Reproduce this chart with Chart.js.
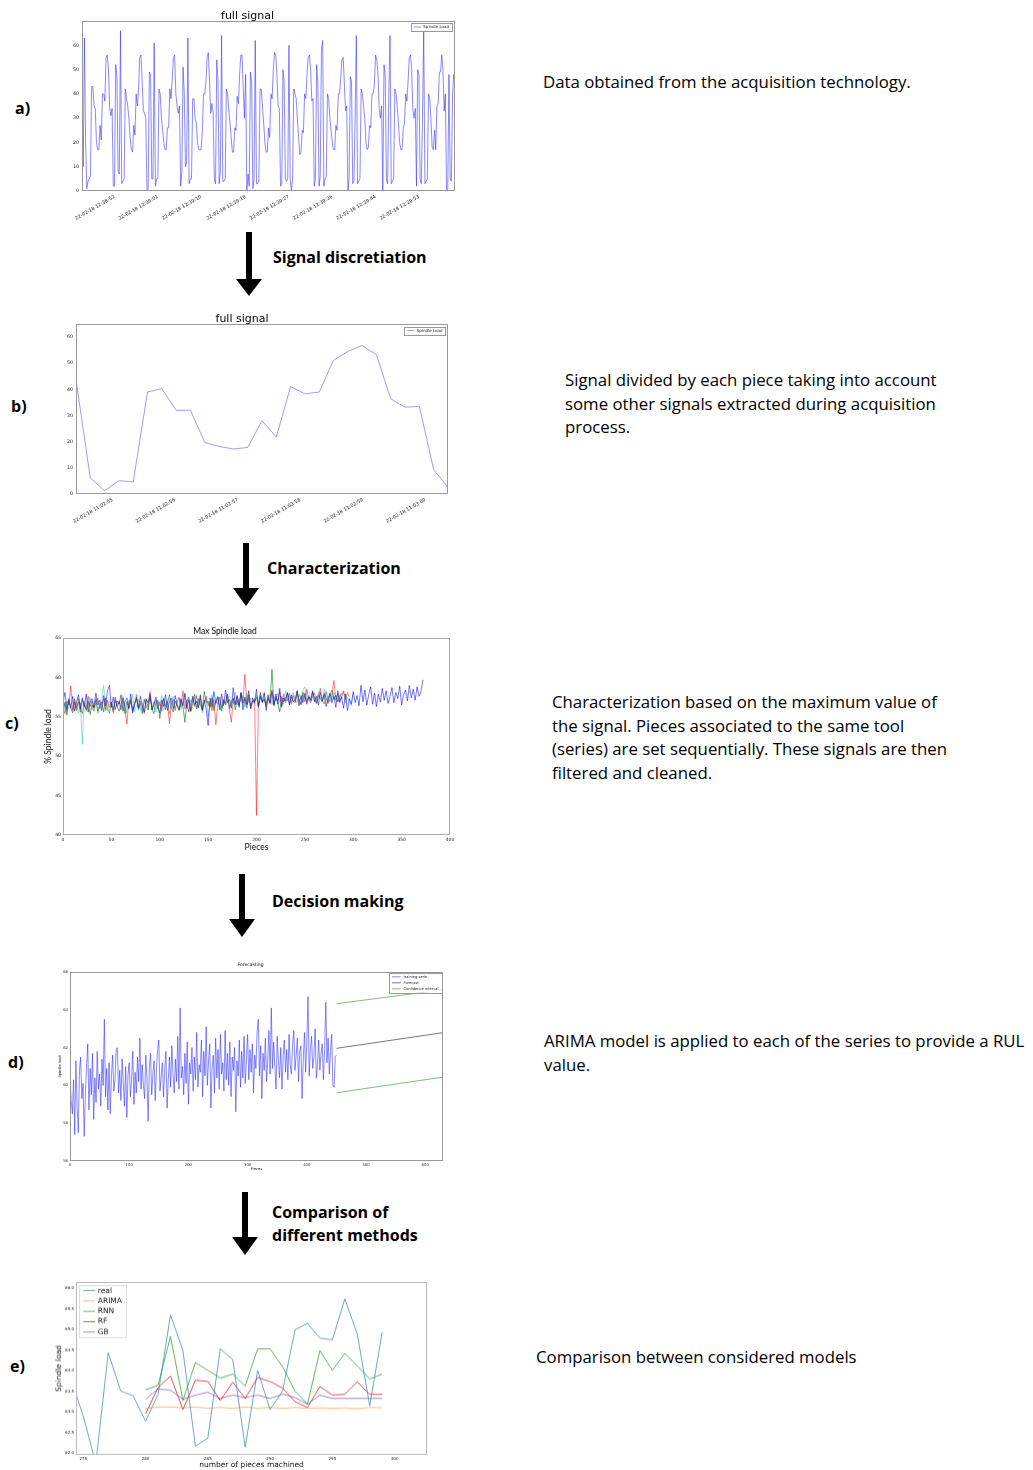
<!DOCTYPE html>
<html>
<head>
<meta charset="utf-8">
<title>Pipeline</title>
<script src="https://cdn.jsdelivr.net/npm/chart.js@4.4.1/dist/chart.umd.min.js"></script>
<style>
  body { margin: 0; background: #fff; }
  #page { position: relative; width: 1033px; height: 1470px; overflow: hidden; font-family: "Open Sans", Lato, sans-serif; color: #000; }
  .box { position: absolute; }
  .txt { position: absolute; font-size: 16.8px; line-height: 23.5px; white-space: nowrap; }
  .lbl { position: absolute; font-weight: bold; font-size: 16px; line-height: 20px; }
  .step { position: absolute; font-weight: bold; font-size: 16px; line-height: 23px; white-space: nowrap; }
  .ctitle { position: absolute; font-family: Lato, sans-serif; font-size: 8.5px; line-height: 10px; white-space: nowrap; transform: translateX(-50%); }
  svg { position: absolute; left: 0; top: 0; }
</style>
</head>
<body>
<div id="page">
  <svg width="1033" height="1470">
    <g fill="#000">
      <rect x="246" y="232" width="6" height="48"/><polygon points="236,279 262,279 249,296"/>
      <rect x="243" y="543" width="6" height="46"/><polygon points="233,588 259,588 246,606"/>
      <rect x="239" y="874" width="6" height="46"/><polygon points="229,919 255,919 242,937"/>
      <rect x="242" y="1192" width="6" height="46"/><polygon points="232,1237 258,1237 245,1255"/>
    </g>
  </svg>

  <div class="box" id="boxA"><canvas id="chartA"></canvas></div>
  <div class="box" id="boxB"><canvas id="chartB"></canvas></div>
  <div class="box" id="boxC"><canvas id="chartC"></canvas></div>
  <div class="box" id="boxD"><canvas id="chartD"></canvas></div>
  <div class="box" id="boxE"><canvas id="chartE"></canvas></div>

  <div class="ctitle" style="left:225px;top:626px">Max Spindle load</div>

  <div class="lbl" style="left:15px;top:98px">a)</div>
  <div class="lbl" style="left:11px;top:396px">b)</div>
  <div class="lbl" style="left:5px;top:713px">c)</div>
  <div class="lbl" style="left:8px;top:1052px">d)</div>
  <div class="lbl" style="left:10px;top:1356px">e)</div>

  <div class="step" style="left:273px;top:246px">Signal discretiation</div>
  <div class="step" style="left:267px;top:557px">Characterization</div>
  <div class="step" style="left:272px;top:890px">Decision making</div>
  <div class="step" style="left:272px;top:1201px">Comparison of<br>different methods</div>

  <div class="txt" style="left:543px;top:70px">Data obtained from the acquisition technology.</div>
  <div class="txt" style="left:565px;top:368px">Signal divided by each piece taking into account<br>some other signals extracted during acquisition<br>process.</div>
  <div class="txt" style="left:552px;top:690px">Characterization based on the maximum value of<br>the signal. Pieces associated to the same tool<br>(series) are set sequentially. These signals are then<br>filtered and cleaned.</div>
  <div class="txt" style="left:544px;top:1029px">ARIMA model is applied to each of the series to provide a RUL<br>value.</div>
  <div class="txt" style="left:536px;top:1345px">Comparison between considered models</div>
</div>

<script>
// ---------- a) full signal (raw spindle load, one sample per index) ----------
const signalA = [
  38, 10, 63, 20, 1, 4, 5, 6,
  43, 43, 35, 34, 20, 17, 17, 27, 21, 40, 40, 37, 55, 56, 50, 34, 31, 34, 2, 2, 52, 48, 8, 7, 66, 3, 4, 5,
  42, 38, 35, 30, 22, 17, 16, 27, 23, 40, 35, 42, 55, 56, 45, 33, 32, 30, 0, 1, 49, 48, 5, 5, 61, 2, 5, 5,
  42, 40, 30, 25, 20, 17, 17, 26, 26, 42, 38, 46, 55, 56, 40, 35, 32, 35, 2, 8, 51, 40, 10, 12, 63, 3, 5, 5,
  38, 38, 30, 28, 20, 17, 17, 17, 24, 40, 40, 45, 55, 57, 45, 32, 36, 32, 5, 3, 54, 45, 3, 8, 64, 4, 4, 5,
  42, 40, 33, 28, 22, 16, 16, 26, 25, 39, 36, 48, 56, 56, 42, 30, 48, 0, 7, 2, 49, 45, 1, 5, 62, 3, 3, 4,
  42, 42, 35, 28, 20, 16, 16, 26, 22, 40, 38, 50, 57, 56, 48, 35, 34, 2, 3, 50, 45, 5, 4, 5, 60, 5, 0, 5,
  42, 40, 38, 30, 22, 15, 16, 25, 24, 40, 38, 48, 55, 56, 50, 37, 38, 2, 5, 52, 45, 2, 6, 58, 62, 2, 5, 6,
  40, 38, 30, 25, 20, 17, 17, 27, 25, 40, 40, 46, 54, 55, 45, 33, 35, 0, 5, 47, 45, 3, 4, 30, 64, 3, 4, 5,
  42, 40, 35, 30, 20, 17, 18, 27, 26, 40, 40, 44, 56, 54, 48, 34, 30, 35, 0, 52, 48, 5, 3, 40, 64, 3, 4, 5,
  42, 40, 35, 28, 20, 17, 17, 26, 28, 40, 37, 45, 55, 56, 50, 33, 30, 34, 2, 50, 48, 5, 3, 30, 66, 3, 4, 5,
  40, 38, 30, 18, 17, 25, 17, 35, 36, 49, 49, 56, 50, 33, 40, 0, 1, 48, 5, 4, 40, 48, 45
];
const ticksAx = [27, 63, 99, 136, 172, 208, 244, 280];
const labelsAx = ["22-02-18 12:38:52", "22-02-18 12:39:01", "22-02-18 12:39:10", "22-02-18 12:39:18",
                  "22-02-18 12:39:27", "22-02-18 12:39:36", "22-02-18 12:39:44", "22-02-18 12:39:53"];
const ticksAy = [0, 10, 20, 30, 40, 50, 60];

// ---------- b) signal for one piece ----------
const signalB = [43.7, 6.1, 1.3, 5.1, 4.6, 39, 40.3, 32, 32, 19.7, 18.2, 17.2, 17.8, 28, 21.8,
                 41.1, 38.3, 39, 51.1, 54.5, 56.8, 53.2, 36.4, 33.2, 33.5, 9.3, 2.5];
const ticksBx = [2.55, 6.92, 11.3, 15.67, 20.05, 24.42];
const labelsBx = ["22-02-18 11:02:55", "22-02-18 11:02:56", "22-02-18 11:02:57",
                  "22-02-18 11:02:58", "22-02-18 11:02:59", "22-02-18 11:03:00"];
const ticksBy = [0, 10, 20, 30, 40, 50, 60];

// ---------- c) max spindle load per piece, 4 tools (one value every 2 pieces) ----------
const PIECE_STEP = 2;
const maxBlue = [
  56.8, 58.1, 55.9, 57.2, 56.1, 57.6, 55.7, 56.9, 57.8, 56.0,
  57.4, 56.3, 57.9, 55.6, 56.8, 57.3, 56.2, 58.0, 56.5, 57.1,
  55.8, 57.7, 56.4, 58.3, 59.0, 56.2, 57.5, 55.9, 57.0, 56.6,
  57.8, 55.7, 56.9, 57.4, 56.0, 57.9, 55.5, 56.7, 57.3, 56.1,
  57.6, 56.4, 55.6, 57.2, 56.8, 57.9, 55.9, 56.5, 57.5, 56.2,
  55.5, 57.1, 56.3, 57.8, 55.8, 56.9, 57.4, 56.0, 57.7, 56.6,
  55.9, 57.3, 56.4, 58.0, 56.1, 57.2, 55.7, 57.6, 56.5, 57.0,
  56.2, 57.8, 55.8, 57.1, 56.0, 53.9, 57.4, 56.3, 58.2, 56.7,
  57.5, 55.9, 57.9, 56.4, 58.4, 56.8, 57.2, 56.1, 58.7, 56.5,
  57.7, 56.2, 58.1, 55.9, 57.5, 56.6, 58.3, 56.0, 57.4, 56.8,
  58.5, 56.3, 57.6, 56.9, 58.0, 55.8, 57.3, 56.7, 58.2, 56.4,
  57.9, 56.6, 58.6, 56.2, 57.4, 57.0, 58.1, 56.5, 57.8, 56.9,
  57.2, 58.3, 56.4, 57.7, 56.8, 58.0, 56.6, 57.5, 57.1, 58.2,
  56.9, 57.6, 56.5, 58.1, 57.0, 57.8, 56.3, 57.4, 58.0, 56.8,
  57.6, 56.2, 58.3, 56.9, 57.5, 56.1, 57.9, 55.8, 57.3, 56.6,
  58.2, 56.8, 57.7, 56.4, 59.0, 56.9, 58.4, 56.5, 57.8, 58.8,
  56.6, 58.0, 56.3, 57.9, 56.9, 58.6, 57.1, 58.3, 56.7, 57.6,
  58.7, 56.8, 58.1, 57.3, 58.9, 56.5, 57.8, 58.4, 57.0, 59.0,
  57.4, 58.5, 57.1, 58.8, 57.6, 58.2, 59.7
];
const maxRed = [
  56.2, 55.4, 57.0, 56.5, 58.9, 55.8, 57.3, 56.1, 56.9, 55.6,
  57.2, 56.4, 55.9, 57.6, 56.3, 57.0, 55.7, 56.8, 57.4, 56.0,
  56.6, 57.3, 55.8, 57.1, 56.2, 56.9, 55.5, 57.5, 56.4, 57.0,
  55.9, 57.4, 56.3, 54.1, 56.8, 57.2, 55.6, 56.7, 57.8, 56.1,
  57.0, 56.5, 55.4, 57.3, 56.2, 58.2, 55.9, 56.8, 57.1, 56.0,
  56.9, 55.7, 57.4, 56.3, 57.0, 54.1, 56.6, 57.2, 55.8, 56.9,
  57.5, 56.2, 58.3, 56.0, 57.1, 55.6, 56.8, 57.4, 56.3, 57.7,
  56.1, 57.3, 55.9, 56.9, 57.6, 56.4, 57.0, 55.8, 57.2, 54.0,
  56.7, 57.5, 56.2, 57.1, 56.5, 57.8, 55.9, 54.3, 57.3, 56.6,
  57.6, 56.4, 58.0, 56.8, 60.4, 56.5, 57.4, 56.1, 56.9, 57.3,
  42.5, 56.6, 58.1, 56.9, 57.3, 56.2, 57.8, 56.7, 58.4, 56.5,
  57.6, 57.0, 58.2, 56.4, 57.9, 56.8, 57.3, 58.0, 56.6, 57.7,
  56.9, 58.3, 57.1, 56.5, 57.8, 56.9, 58.5, 57.2, 56.8, 57.6,
  58.0, 56.7, 57.5, 58.6, 57.0, 56.6, 58.2, 57.3, 56.9, 57.8,
  59.6, 57.1, 58.0, 56.8, 57.6, 58.3, 57.2, 58.1, 57.5
];
const maxGreen = [
  55.6, 56.8, 55.2, 57.1, 56.0, 55.5, 56.9, 55.8, 57.3, 56.2,
  55.4, 56.7, 55.9, 57.0, 55.3, 56.5, 56.1, 57.2, 55.7, 56.4,
  56.9, 55.6, 57.4, 56.0, 55.5, 56.8, 55.9, 57.1, 56.3, 55.7,
  56.6, 57.3, 55.4, 56.9, 56.1, 57.0, 55.8, 56.5, 57.5, 55.9,
  56.7, 55.5, 57.2, 56.2, 55.9, 57.6, 56.0, 55.4, 56.8, 57.1,
  54.8, 56.5, 57.3, 55.9, 56.7, 57.8, 56.1, 55.6, 57.0, 56.4,
  55.8, 57.2, 56.3, 54.3, 56.9, 57.5, 55.7, 56.6, 57.9, 56.0,
  57.3, 56.5, 55.9, 58.2, 56.8, 57.0, 56.2, 57.4, 55.8, 56.9,
  57.6, 56.3, 55.7, 57.2, 56.6, 57.9, 56.0, 56.8, 57.4, 55.9,
  57.1, 56.5, 58.0, 56.7, 57.3, 56.1, 57.8, 56.4, 57.0, 56.9,
  57.5, 56.2, 57.9, 56.8, 57.2, 56.5, 57.7, 56.9, 61.0, 56.6,
  57.4, 56.8, 55.6, 57.6, 56.9, 57.3, 58.0, 56.7, 57.5, 57.0,
  56.8, 57.9, 57.2, 56.6, 58.1, 57.4, 56.9, 57.7, 57.1, 58.3,
  57.0, 56.8, 57.8, 57.3, 56.9, 58.0, 57.4, 56.7, 57.9, 58.4,
  57.2, 57.7, 56.9, 57.5, 58.0
];
const maxCyan = [
  55.0, 56.9, 55.6, 57.4, 56.2, 55.8, 57.1, 56.4, 55.5, 56.8,
  51.5, 57.0, 55.7, 56.3, 57.5, 55.9, 56.6, 57.2, 55.4, 56.7,
  57.3, 59.0, 56.1, 55.8, 57.0, 56.5, 55.6, 57.4, 56.2, 56.9,
  55.9, 57.6, 56.3, 55.5, 57.1, 56.6, 57.8, 55.7, 56.4, 57.2,
  56.0, 55.3, 57.3, 56.8, 55.9, 57.5, 56.2, 56.9, 55.6, 57.0,
  56.4, 57.7, 55.8, 56.5, 57.2, 55.4, 56.9, 57.6, 56.1, 56.7,
  57.4, 55.9, 56.6, 57.9, 56.3, 55.7, 57.1, 56.8, 57.5, 56.0,
  56.9, 57.6, 55.5, 56.7, 57.3, 55.0, 56.5, 57.8, 56.2, 57.0,
  56.6, 57.4, 55.9, 57.1, 56.8, 57.9, 56.3, 57.2, 56.7, 58.1,
  56.5, 57.3, 56.9, 57.7, 56.2, 58.0, 56.8, 57.4, 57.0, 56.6,
  57.8, 56.4, 57.5, 56.9, 58.2, 56.7, 57.3, 57.9, 56.5, 57.6,
  57.1, 58.0, 56.8, 57.4, 56.6, 58.3, 57.0, 57.7, 56.9, 58.1,
  57.3, 56.8, 57.9, 57.2, 58.4, 58.8, 57.1, 57.6, 56.9, 58.0,
  57.5, 56.7, 58.2, 57.3, 57.0, 58.5, 57.4, 56.8, 57.9, 57.2,
  58.1, 57.6, 56.9, 57.8, 57.3, 58.2, 56.8, 57.5, 57.0, 56.4,
  57.9
];
const ticksCx = [0, 50, 100, 150, 200, 250, 300, 350, 400];
const ticksCy = [40, 45, 50, 55, 60, 65];

// ---------- d) forecasting ----------
const trainD = [
  60.7, 59.2, 58.5, 60.3, 57.4, 61.3, 58.9, 57.5, 60.8, 61.5,
  59.3, 60.1, 57.3, 59.6, 61.0, 62.2, 58.7, 60.9, 59.5, 61.7,
  58.2, 60.4, 59.1, 61.8, 59.8, 60.6, 58.9, 61.4, 60.0, 63.5,
  59.4, 60.9, 58.7, 61.2, 58.5, 60.5, 61.6, 59.7, 60.3, 61.9,
  62.0, 59.6, 60.8, 59.2, 61.4, 60.1, 58.9, 61.0, 58.3, 60.6,
  61.2, 59.4, 60.3, 61.8, 59.0, 60.7, 59.6, 61.5, 60.2, 62.5,
  59.8, 61.1, 60.0, 59.3, 61.6, 60.4, 58.1, 60.9, 61.7, 59.5,
  60.6, 61.3, 59.2, 60.8, 61.9, 62.4, 59.7, 60.5, 61.2, 59.4,
  60.9, 61.8, 58.8, 60.3, 61.5, 59.9, 62.1, 60.6, 59.6, 61.4,
  60.2, 62.6, 59.8, 64.1, 60.4, 61.0, 59.5, 61.7, 60.1, 62.3,
  59.0, 61.2, 60.6, 62.0, 59.7, 61.5, 60.3, 62.8, 59.9, 61.1,
  60.7, 62.4, 59.4, 61.8, 60.5, 63.1, 60.0, 61.3, 62.2, 58.8,
  60.9, 61.6, 59.6, 62.5, 60.4, 61.9, 59.8, 62.7, 60.6, 61.2,
  59.7, 62.9, 60.3, 61.7, 60.0, 62.3, 59.4, 61.5, 60.8, 62.0,
  58.6, 61.3, 60.5, 62.4, 59.9, 61.8, 60.4, 62.6, 60.1, 61.4,
  62.7, 60.3, 61.9, 60.7, 62.2, 59.6, 61.6, 60.9, 62.8, 63.5,
  60.5, 62.1, 59.3, 61.7, 60.8, 62.5, 60.2, 61.4, 62.9, 60.6,
  64.1, 60.9, 62.3, 61.0, 59.8, 62.6, 61.3, 60.4, 62.0, 59.8,
  61.5, 62.4, 60.7, 61.9, 60.3, 62.7, 61.1, 60.6, 62.2, 62.9,
  60.8, 61.6, 62.5, 60.2, 61.8, 62.1, 59.3, 61.4, 62.8, 60.7,
  62.3, 64.7, 60.5, 61.9, 62.6, 60.9, 61.5, 63.0, 60.4, 61.0,
  62.4, 60.8, 61.7, 62.2, 60.3, 61.9, 64.4, 61.2, 62.5, 60.6,
  61.8, 62.7, 60.0, 59.9, 61.5, 61.6
];
const forecastX = [450, 630];
const forecastD = [61.96, 62.79];
const upperD = [64.32, 65.06];
const lowerD = [59.61, 60.44];
const ticksDx = [0, 100, 200, 300, 400, 500, 600];
const ticksDy = [56, 58, 60, 62, 64, 66];

// ---------- e) model comparison ----------
const realX = [274, 275, 276, 277, 278, 279, 280, 281, 282, 283, 284, 285, 286,
               287, 288, 289, 290, 291, 292, 293, 294, 295, 296, 297, 298, 299];
const realE = [63.8, 62.9, 61.75, 64.44, 63.51, 63.39, 62.78, 63.43, 65.35, 64.49, 62.17, 62.37, 64.53,
               64.27, 62.15, 64.01, 63.06, 63.51, 64.99, 65.15, 64.79, 64.75, 65.74, 64.89, 63.15, 64.93];
const predX = [280, 281, 282, 283, 284, 285, 286, 287, 288, 289,
               290, 291, 292, 293, 294, 295, 296, 297, 298, 299];
const arimaE = [63.09, 63.12, 63.12, 63.10, 63.12, 63.09, 63.11, 63.09, 63.12, 63.09,
                63.11, 63.09, 63.11, 63.09, 63.10, 63.09, 63.10, 63.08, 63.11, 63.10];
const rnnE = [63.54, 63.65, 64.83, 63.28, 64.20, 64.01, 63.82, 63.92, 63.63, 64.53,
              64.53, 64.10, 63.51, 63.19, 64.49, 64.01, 64.42, 64.12, 63.80, 63.92];
const rfE = [62.96, 63.59, 63.87, 63.06, 63.77, 63.74, 63.28, 63.72, 63.33, 63.84,
             63.74, 63.58, 63.25, 63.11, 63.62, 63.41, 63.43, 63.73, 63.43, 63.43];
const gbE = [63.31, 63.56, 63.53, 63.31, 63.41, 63.48, 63.33, 63.41, 63.35, 63.41,
             63.33, 63.43, 63.35, 63.19, 63.41, 63.33, 63.33, 63.33, 63.33, 63.33];
const ticksEx = [275, 280, 285, 290, 295, 300];
const ticksEy = [62.0, 62.5, 63.0, 63.5, 64.0, 64.5, 65.0, 65.5, 66.0];

// ---------- helpers ----------
const MPL = "'DejaVu Sans', sans-serif";
const CAL = "Lato, 'Open Sans', sans-serif";

const seq = (ys, step) => ys.map((y, i) => ({ x: i * step, y }));
const pts = (xs, ys) => ys.map((y, i) => ({ x: xs[i], y }));

// box round the plot area, like matplotlib's axes frame
const framePlugin = {
  id: "frame",
  afterDatasetsDraw(chart, args, opts) {
    const { ctx, chartArea: a } = chart;
    ctx.save();
    ctx.strokeStyle = opts.color || "#999";
    ctx.lineWidth = 1;
    ctx.strokeRect(Math.round(a.left) + 0.5, Math.round(a.top) + 0.5,
                   Math.round(a.right - a.left) - 1, Math.round(a.bottom - a.top) - 1);
    ctx.restore();
  }
};

// legend drawn inside the plot area (top left / top right)
const insideLegend = {
  id: "insideLegend",
  afterDatasetsDraw(chart, args, o) {
    if (!o.show) return;
    const { ctx, chartArea: a } = chart;
    const sets = chart.data.datasets.filter(d => d.label);
    ctx.save();
    ctx.font = o.size + "px " + MPL;
    const tw = Math.max(...sets.map(d => ctx.measureText(d.label).width));
    const w = o.padX * 2 + o.line + o.gap + tw;
    const h = o.padY * 2 + o.row * sets.length;
    const x = o.side === "left" ? a.left + o.dx : a.right - o.dx - w;
    const y = a.top + o.dy;
    ctx.fillStyle = "#fff";
    ctx.fillRect(x, y, w, h);
    ctx.strokeStyle = o.border;
    ctx.lineWidth = 1;
    ctx.strokeRect(Math.round(x) + 0.5, Math.round(y) + 0.5, Math.round(w), Math.round(h));
    sets.forEach((d, i) => {
      const cy = y + o.padY + o.row * (i + 0.5);
      ctx.strokeStyle = d.borderColor;
      ctx.lineWidth = o.lw || 1;
      ctx.beginPath();
      ctx.moveTo(x + o.padX, cy);
      ctx.lineTo(x + o.padX + o.line, cy);
      ctx.stroke();
      ctx.fillStyle = o.color || "#222";
      ctx.textBaseline = "middle";
      ctx.fillText(d.label, x + o.padX + o.line + o.gap, cy);
    });
    ctx.restore();
  }
};

function axis(o) {
  return {
    type: "linear",
    position: o.position,
    min: o.min,
    max: o.max,
    grid: { display: false, drawTicks: false },
    border: { display: false },
    title: o.title
      ? { display: true, text: o.title, color: "#111", padding: 0,
          font: { family: o.titleFamily || MPL, size: o.titleSize } }
      : { display: false },
    ticks: {
      autoSkip: false,
      color: "#222",
      padding: o.pad ?? 2,
      font: { family: MPL, size: o.size },
      minRotation: o.rot || 0,
      maxRotation: o.rot || 0,
      callback: o.fmt || (v => v)
    },
    afterBuildTicks: s => { s.ticks = o.ticks.map(v => ({ value: v })); },
    afterFit: s => {
      if (o.position === "bottom") s.height = o.fit; else s.width = o.fit;
      s.paddingLeft = s.paddingRight = s.paddingTop = s.paddingBottom = 0;
    }
  };
}

// plot = [left, top, right, bottom] of the plot area on the page, m = room round it
function makeChart(id, plot, m, datasets, scales, title, legend, frameColor) {
  const box = document.getElementById("box" + id);
  box.style.left = (plot[0] - m.l) + "px";
  box.style.top = (plot[1] - m.t) + "px";
  box.style.width = (plot[2] - plot[0] + m.l + m.r) + "px";
  box.style.height = (plot[3] - plot[1] + m.t + m.b) + "px";
  const titleH = title ? title.size * title.lh + title.pb : 0;

  return new Chart(document.getElementById("chart" + id), {
    type: "line",
    data: { datasets },
    options: {
      responsive: true,
      maintainAspectRatio: false,
      animation: false,
      layout: { padding: { left: 0, right: m.r, top: m.t - titleH, bottom: 0 } },
      elements: { point: { radius: 0 }, line: { borderWidth: 1, tension: 0 } },
      plugins: {
        legend: { display: false },
        tooltip: { enabled: false },
        title: title
          ? { display: true, text: title.text, color: "#000",
              font: { family: title.family, size: title.size, weight: "normal", lineHeight: title.lh },
              padding: { top: 0, bottom: title.pb } }
          : { display: false },
        frame: { color: frameColor },
        insideLegend: legend || { show: false }
      },
      scales
    },
    plugins: [framePlugin, insideLegend]
  });
}

/* ================= a) FULL SIGNAL ================= */
makeChart("A", [82, 21, 455, 191], { l: 42, r: 6, t: 14, b: 36 },
  [{ label: "Spindle Load", data: seq(signalA, 1), borderColor: "rgba(40,40,255,0.55)" }],
  {
    x: axis({ position: "bottom", min: 0, max: 310, ticks: ticksAx, size: 4.8, rot: 30, pad: 3, fit: 36,
              fmt: (v, i) => labelsAx[i] }),
    y: axis({ position: "left", min: 0, max: 70, ticks: ticksAy, size: 4.8, pad: 3, fit: 42 })
  },
  { text: "full signal", family: MPL, size: 11, lh: 0.9, pb: 0 },
  { show: true, side: "right", dx: 3, dy: 2, size: 4, padX: 3, padY: 1.5, row: 5, line: 7, gap: 2.5, border: "#999" },
  "#999");

/* ================= b) ONE PIECE ================= */
makeChart("B", [76, 324, 448, 494], { l: 40, r: 6, t: 14, b: 36 },
  [{ label: "Spindle Load", data: seq(signalB, 1), borderColor: "rgba(60,60,255,0.5)" }],
  {
    x: axis({ position: "bottom", min: 0, max: 26, ticks: ticksBx, size: 4.8, rot: 30, pad: 3, fit: 36,
              fmt: (v, i) => labelsBx[i] }),
    y: axis({ position: "left", min: 0, max: 65, ticks: ticksBy, size: 4.8, pad: 3, fit: 40 })
  },
  { text: "full signal", family: MPL, size: 11, lh: 0.9, pb: 0 },
  { show: true, side: "right", dx: 2.5, dy: 2.5, size: 4, padX: 3, padY: 1.5, row: 5, line: 7, gap: 2.5, border: "#999" },
  "#999");

/* ================= c) MAX SPINDLE LOAD (title is the .ctitle div, it sits left of centre) ================= */
makeChart("C", [63, 638, 450, 835], { l: 20, r: 6, t: 4, b: 17 },
  [
    { data: seq(maxBlue, PIECE_STEP), borderColor: "rgba(0,0,255,0.55)" },
    { data: seq(maxGreen, PIECE_STEP), borderColor: "rgba(0,128,0,0.6)" },
    { data: seq(maxRed, PIECE_STEP), borderColor: "rgba(255,0,0,0.5)" },
    { data: seq(maxCyan, PIECE_STEP), borderColor: "rgba(0,191,191,0.45)" }
  ],
  {
    x: axis({ position: "bottom", min: 0, max: 400, ticks: ticksCx, size: 4.4, pad: 2, fit: 17,
              title: "Pieces", titleFamily: CAL, titleSize: 8.5 }),
    y: axis({ position: "left", min: 40, max: 65, ticks: ticksCy, size: 4.6, pad: 2, fit: 20,
              title: "% Spindle load", titleFamily: CAL, titleSize: 8.5 })
  },
  null, null, "#aaa");

/* ================= d) FORECASTING ================= */
makeChart("D", [70, 972, 443, 1161], { l: 12, r: 6, t: 10, b: 10 },
  [
    { label: "training serie", data: seq(trainD, 2), borderColor: "rgba(40,40,255,0.55)" },
    { label: "Forecast", data: pts(forecastX, forecastD), borderColor: "rgba(60,60,60,0.7)" },
    { label: "Confidence interval", data: pts(forecastX, upperD), borderColor: "rgba(0,150,0,0.55)" },
    { data: pts(forecastX, lowerD), borderColor: "rgba(0,150,0,0.55)" }
  ],
  {
    x: axis({ position: "bottom", min: 0, max: 630, ticks: ticksDx, size: 3.8, pad: 2, fit: 10,
              title: "Pieces", titleSize: 3.6 }),
    y: axis({ position: "left", min: 56, max: 66, ticks: ticksDy, size: 3.8, pad: 2, fit: 12,
              title: "Spindle load", titleSize: 3.6 })
  },
  { text: "Forecasting", family: MPL, size: 4.5, lh: 1.2, pb: 4 },
  { show: true, side: "right", dx: 1.5, dy: 1, size: 3.6, padX: 3, padY: 0.8, row: 6, line: 9, gap: 2.5, border: "#999" },
  "#999");

/* ================= e) MODEL COMPARISON ================= */
makeChart("E", [76, 1282, 427, 1454], { l: 21, r: 6, t: 2, b: 14.5 },
  [
    { label: "real", data: pts(realX, realE), borderColor: "rgba(31,119,180,0.65)" },
    { label: "ARIMA", data: pts(predX, arimaE), borderColor: "rgba(255,127,14,0.55)" },
    { label: "RNN", data: pts(predX, rnnE), borderColor: "rgba(44,160,44,0.75)" },
    { label: "RF", data: pts(predX, rfE), borderColor: "rgba(214,39,40,0.8)" },
    { label: "GB", data: pts(predX, gbE), borderColor: "rgba(148,103,189,0.8)" }
  ],
  {
    x: axis({ position: "bottom", min: 274.41, max: 302.6, ticks: ticksEx, size: 4, pad: 2, fit: 14.5,
              title: "number of pieces machined", titleSize: 7.5 }),
    y: axis({ position: "left", min: 61.96, max: 66.15, ticks: ticksEy, size: 4, pad: 2, fit: 21,
              title: "Spindle load", titleSize: 7.5, fmt: v => v.toFixed(1) })
  },
  null,
  { show: true, side: "left", dx: 3.3, dy: 3, size: 7.5, padX: 4, padY: 0.4, row: 10.3, line: 11.7, gap: 2.8, border: "#ddd" },
  "#bbb");
</script>
</body>
</html>
